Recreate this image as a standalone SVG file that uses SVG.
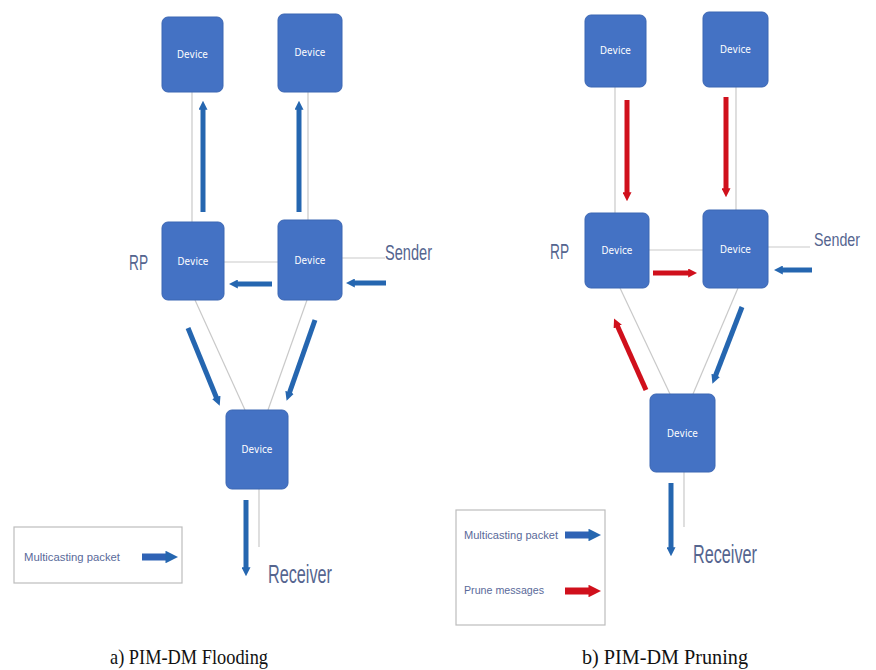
<svg xmlns="http://www.w3.org/2000/svg" width="876" height="670" viewBox="0 0 876 670">
  <style>
    .dev { fill: #4472c4; stroke: #3b66b3; stroke-width: 1; }
    .devtxt { font-family: "DejaVu Sans Condensed", "Liberation Sans", sans-serif; font-size: 10px; fill: #ffffff; text-anchor: middle; }
    .link { stroke: #c9c9c9; stroke-width: 1.2; fill: none; }
    .pkt { stroke: #2566b0; stroke-width: 5; fill: none; marker-end: url(#headBlue); }
    .prune { stroke: #d0101c; stroke-width: 5; fill: none; marker-end: url(#headRed); }
    .lbl { font-family: "Liberation Sans", "DejaVu Sans", sans-serif; fill: #55658f; }
    .leg { font-family: "Liberation Sans", "DejaVu Sans", sans-serif; font-size: 11px; fill: #5a6a9a; }
    .legbox { fill: #ffffff; stroke: #bdbdbd; stroke-width: 1.2; }
    .cap { font-family: "Liberation Serif", "Times New Roman", serif; font-size: 22px; fill: #111111; }
  </style>
  <defs>
    <marker id="headBlue" viewBox="0 0 10 10" refX="2" refY="5" markerWidth="1.8" markerHeight="1.8" orient="auto">
      <path d="M0,0 L10,5 L0,10 z" fill="#2566b0"/>
    </marker>
    <marker id="headRed" viewBox="0 0 10 10" refX="2" refY="5" markerWidth="1.8" markerHeight="1.8" orient="auto">
      <path d="M0,0 L10,5 L0,10 z" fill="#d0101c"/>
    </marker>
  </defs>
  <rect width="876" height="670" fill="#ffffff"/>

  <!-- connectors -->
  <g id="connectors">
    <!-- a) flooding: physical links -->
    <line class="link" x1="192" y1="92" x2="192" y2="222"/>
    <line class="link" x1="308" y1="92" x2="308" y2="220"/>
    <line class="link" x1="224" y1="262" x2="278" y2="262"/>
    <line class="link" x1="342" y1="258" x2="385" y2="258"/>
    <line class="link" x1="195" y1="300" x2="245" y2="410"/>
    <line class="link" x1="307" y1="300" x2="268" y2="410"/>
    <line class="link" x1="259" y1="489" x2="259" y2="547"/>
    <!-- a) multicast flow -->
    <line class="pkt" x1="203" y1="212" x2="203" y2="108"/>
    <line class="pkt" x1="299" y1="212" x2="299" y2="108"/>
    <line class="pkt" x1="272" y1="284" x2="236" y2="284"/>
    <line class="pkt" x1="386" y1="283" x2="353" y2="283"/>
    <line class="pkt" x1="188" y1="328" x2="217" y2="399"/>
    <line class="pkt" x1="315" y1="320" x2="289" y2="394"/>
    <line class="pkt" x1="246" y1="500" x2="246" y2="569"/>

    <!-- b) pruning: physical links -->
    <line class="link" x1="615" y1="87" x2="615" y2="213"/>
    <line class="link" x1="736" y1="87" x2="736" y2="210"/>
    <line class="link" x1="649" y1="250" x2="703" y2="250"/>
    <line class="link" x1="768" y1="247" x2="810" y2="247"/>
    <line class="link" x1="620" y1="288" x2="670" y2="394"/>
    <line class="link" x1="738" y1="288" x2="693" y2="394"/>
    <line class="link" x1="684" y1="472" x2="684" y2="527"/>
    <!-- b) prune messages -->
    <line class="prune" x1="627" y1="100" x2="627" y2="194"/>
    <line class="prune" x1="726" y1="97" x2="726" y2="190"/>
    <line class="prune" x1="653" y1="273" x2="690" y2="273"/>
    <line class="prune" x1="646" y1="390" x2="617" y2="325"/>
    <!-- b) multicast flow -->
    <line class="pkt" x1="812" y1="270" x2="781" y2="270"/>
    <line class="pkt" x1="742" y1="307" x2="715" y2="377"/>
    <line class="pkt" x1="671" y1="483" x2="671" y2="549"/>
  </g>

  <!-- a) PIM-DM flooding nodes -->
  <g id="a-top-left"><rect class="dev" x="162" y="17" width="61" height="75" rx="6"/><text class="devtxt" x="192.5" y="58">Device</text></g>
  <g id="a-top-right"><rect class="dev" x="278" y="14" width="64" height="78" rx="6"/><text class="devtxt" x="310" y="56">Device</text></g>
  <g id="a-rp"><rect class="dev" x="162" y="222" width="62" height="78" rx="6"/><text class="devtxt" x="193" y="265">Device</text></g>
  <g id="a-sender-router"><rect class="dev" x="278" y="220" width="64" height="80" rx="6"/><text class="devtxt" x="310" y="264">Device</text></g>
  <g id="a-bottom"><rect class="dev" x="226" y="410" width="62" height="79" rx="6"/><text class="devtxt" x="257" y="453">Device</text></g>

  <g id="a-labels">
    <text class="lbl" x="129" y="270" font-size="22" textLength="19" lengthAdjust="spacingAndGlyphs">RP</text>
    <text class="lbl" x="385" y="260" font-size="22" textLength="47" lengthAdjust="spacingAndGlyphs">Sender</text>
    <text class="lbl" x="268" y="583" font-size="26" textLength="64" lengthAdjust="spacingAndGlyphs">Receiver</text>
  </g>

  <g id="a-legend">
    <rect class="legbox" x="14" y="527" width="168" height="56"/>
    <text class="leg" x="24" y="561" textLength="96" lengthAdjust="spacingAndGlyphs">Multicasting packet</text>
    <line x1="142" y1="557" x2="168" y2="557" stroke="#2f63b5" stroke-width="7" marker-end="url(#headBlue)"/>
  </g>

  <!-- b) PIM-DM pruning nodes -->
  <g id="b-top-left"><rect class="dev" x="585" y="15" width="61" height="72" rx="6"/><text class="devtxt" x="615.5" y="54">Device</text></g>
  <g id="b-top-right"><rect class="dev" x="703" y="12" width="65" height="75" rx="6"/><text class="devtxt" x="735.5" y="53">Device</text></g>
  <g id="b-rp"><rect class="dev" x="585" y="213" width="64" height="75" rx="6"/><text class="devtxt" x="617" y="254">Device</text></g>
  <g id="b-sender-router"><rect class="dev" x="703" y="210" width="65" height="78" rx="6"/><text class="devtxt" x="735.5" y="253">Device</text></g>
  <g id="b-bottom"><rect class="dev" x="650" y="394" width="65" height="78" rx="6"/><text class="devtxt" x="682.5" y="437">Device</text></g>

  <g id="b-labels">
    <text class="lbl" x="550" y="259" font-size="22" textLength="19" lengthAdjust="spacingAndGlyphs">RP</text>
    <text class="lbl" x="814" y="246" font-size="18" textLength="46" lengthAdjust="spacingAndGlyphs">Sender</text>
    <text class="lbl" x="693" y="563" font-size="26" textLength="64" lengthAdjust="spacingAndGlyphs">Receiver</text>
  </g>

  <g id="b-legend">
    <rect class="legbox" x="456" y="510" width="149" height="115"/>
    <text class="leg" x="464" y="539" textLength="94" lengthAdjust="spacingAndGlyphs">Multicasting packet</text>
    <line x1="565" y1="535" x2="591" y2="535" stroke="#2f63b5" stroke-width="7" marker-end="url(#headBlue)"/>
    <text class="leg" x="464" y="594" textLength="80" lengthAdjust="spacingAndGlyphs">Prune messages</text>
    <line x1="565" y1="591" x2="591" y2="591" stroke="#d0101c" stroke-width="7" marker-end="url(#headRed)"/>
  </g>

  <g id="captions">
    <text class="cap" x="110" y="664" textLength="158" lengthAdjust="spacingAndGlyphs">a) PIM-DM Flooding</text>
    <text class="cap" x="582" y="664" textLength="166" lengthAdjust="spacingAndGlyphs">b) PIM-DM Pruning</text>
  </g>
</svg>
